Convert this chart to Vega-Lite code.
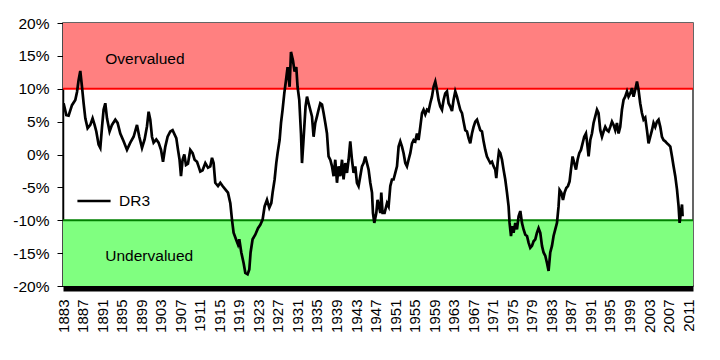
{
  "$schema": "https://vega.github.io/schema/vega-lite/v6.json",
  "autosize": {"type": "none"},
  "width": 630,
  "height": 263,
  "padding": {"left": 63, "top": 23, "right": 27, "bottom": 74},
  "background": "white",
  "config": {
    "view": {"stroke": "#333333", "strokeWidth": 1.5},
    "font": "Liberation Sans",
    "axis": {"labelFont": "Liberation Sans", "labelColor": "#000000", "grid": false, "labelOverlap": false, "labelBound": false, "labelFlush": false},
    "axisX": {"labelFontSize": 15, "labelAngle": 270, "labelPadding": 11, "ticks": false, "tickSize": 0, "offset": 2, "domainWidth": 6, "domainColor": "#000000"},
    "axisY": {"labelFontSize": 15.5, "labelPadding": 8, "tickSize": 6, "tickColor": "#000000", "domainColor": "#000000", "domainWidth": 1.5},
    "legend": {"labelFont": "Liberation Sans"}
  },
  "datasets": {
    "dr3": [
      {"t":1883.12,"v":7.8},{"t":1883.68,"v":6.0},{"t":1884.15,"v":5.9},{"t":1884.84,"v":7.5},{"t":1885.52,"v":8.3},{"t":1885.87,"v":9.5},{"t":1886.19,"v":11.3},{"t":1886.54,"v":12.7},{"t":1886.89,"v":10.3},{"t":1887.22,"v":7.8},{"t":1887.57,"v":5.5},{"t":1888.04,"v":4.0},{"t":1888.59,"v":4.5},{"t":1889.06,"v":5.5},{"t":1889.47,"v":4.5},{"t":1889.82,"v":3.5},{"t":1890.29,"v":1.5},{"t":1890.64,"v":1.0},{"t":1890.99,"v":4.2},{"t":1891.31,"v":6.8},{"t":1891.66,"v":7.8},{"t":1892.01,"v":5.5},{"t":1892.54,"v":3.5},{"t":1893.03,"v":4.5},{"t":1893.71,"v":5.3},{"t":1894.18,"v":4.8},{"t":1894.73,"v":3.2},{"t":1895.41,"v":2.0},{"t":1896.10,"v":0.7},{"t":1896.78,"v":1.8},{"t":1897.46,"v":2.7},{"t":1898.15,"v":4.5},{"t":1898.62,"v":2.7},{"t":1899.18,"v":1.0},{"t":1899.71,"v":2.3},{"t":1900.20,"v":4.3},{"t":1900.53,"v":6.5},{"t":1900.87,"v":5.3},{"t":1901.22,"v":2.7},{"t":1901.55,"v":1.8},{"t":1902.10,"v":2.3},{"t":1902.57,"v":1.8},{"t":1903.07,"v":0.7},{"t":1903.48,"v":-1.1},{"t":1903.95,"v":1.2},{"t":1904.42,"v":2.7},{"t":1904.97,"v":3.5},
      {"t":1905.44,"v":3.7},{"t":1906.20,"v":2.5},{"t":1906.55,"v":0.7},{"t":1906.87,"v":-0.8},{"t":1907.16,"v":-3.3},{"t":1907.49,"v":-0.8},{"t":1907.84,"v":0},{"t":1908.18,"v":-1.6},{"t":1908.59,"v":-1.4},{"t":1909.06,"v":0.7},{"t":1909.54,"v":0.2},{"t":1909.95,"v":-0.8},{"t":1910.44,"v":-1.1},{"t":1910.76,"v":-1.8},{"t":1911.11,"v":-2.6},{"t":1911.58,"v":-2.4},{"t":1912.14,"v":-1.3},{"t":1912.69,"v":-2.0},{"t":1913.16,"v":-1.8},{"t":1913.51,"v":-0.5},{"t":1913.84,"v":-1.3},{"t":1914.18,"v":-4.3},{"t":1914.74,"v":-4.8},{"t":1915.21,"v":-4.3},{"t":1915.68,"v":-4.8},{"t":1916.23,"v":-5.3},{"t":1916.78,"v":-5.8},{"t":1917.26,"v":-7.4},{"t":1917.60,"v":-9.9},{"t":1917.93,"v":-11.9},{"t":1918.42,"v":-12.9},{"t":1918.83,"v":-13.7},{"t":1919.10,"v":-12.9},{"t":1919.51,"v":-14.9},{"t":1919.98,"v":-16.5},{"t":1920.33,"v":-18.0},{"t":1920.80,"v":-18.2},{"t":1921.15,"v":-17.5},{"t":1921.41,"v":-14.9},{"t":1921.82,"v":-12.9},{"t":1922.37,"v":-12.2},{"t":1922.93,"v":-11.2},{"t":1923.40,"v":-10.7},{"t":1923.87,"v":-9.9},{"t":1924.28,"v":-7.9},{"t":1924.77,"v":-6.9},{"t":1925.24,"v":-8.1},{"t":1925.65,"v":-7.4},{"t":1925.92,"v":-5.8},{"t":1926.33,"v":-3.8},
      {"t":1926.67,"v":-1.3},{"t":1926.94,"v":0.2},{"t":1927.35,"v":2.2},{"t":1927.64,"v":4.8},{"t":1927.96,"v":6.8},{"t":1928.31,"v":9.3},{"t":1928.66,"v":11.3},{"t":1928.99,"v":13.3},{"t":1929.40,"v":10.3},{"t":1929.68,"v":15.6},{"t":1930.09,"v":14.3},{"t":1930.42,"v":12.6},{"t":1930.77,"v":13.3},{"t":1931.03,"v":10.3},{"t":1931.38,"v":8.3},{"t":1931.73,"v":3.2},{"t":1931.94,"v":-1.3},{"t":1932.20,"v":1.7},{"t":1932.41,"v":4.2},{"t":1932.67,"v":7.3},{"t":1932.96,"v":8.8},{"t":1933.29,"v":7.8},{"t":1933.63,"v":6.8},{"t":1933.98,"v":5.8},{"t":1934.31,"v":2.7},{"t":1934.66,"v":4.8},{"t":1935.01,"v":5.8},{"t":1935.33,"v":6.8},{"t":1935.68,"v":7.8},{"t":1936.03,"v":7.6},{"t":1936.36,"v":6.3},{"t":1936.71,"v":4.8},{"t":1937.05,"v":3.2},{"t":1937.38,"v":-0.3},{"t":1937.73,"v":-0.8},{"t":1938.08,"v":-1.8},{"t":1938.41,"v":-3.3},{"t":1938.75,"v":-0.8},{"t":1939.10,"v":-4.3},{"t":1939.43,"v":-1.8},{"t":1939.78,"v":-3.3},{"t":1940.13,"v":-0.8},{"t":1940.45,"v":-3.8},{"t":1940.80,"v":-1.3},{"t":1941.15,"v":-2.8},{"t":1941.48,"v":-0.8},{"t":1941.82,"v":2.0},{"t":1942.17,"v":-0.8},{"t":1942.50,"v":-2.8},{"t":1942.85,"v":-1.8},{"t":1943.19,"v":-4.3},{"t":1943.52,"v":-4.8},{"t":1943.87,"v":-3.3},{"t":1944.22,"v":-1.8},{"t":1944.55,"v":-1.3},{"t":1944.90,"v":-0.3},{"t":1945.24,"v":-1.3},{"t":1945.57,"v":-2.3},{"t":1945.92,"v":-4.3},{"t":1946.27,"v":-5.8},{"t":1946.47,"v":-8.9},{"t":1946.74,"v":-10.4},{"t":1947.15,"v":-8.9},{"t":1947.41,"v":-6.9},
      {"t":1947.98,"v":-8.9},{"t":1948.17,"v":-5.8},{"t":1948.44,"v":-8.9},{"t":1948.85,"v":-8.9},{"t":1949.34,"v":-7.4},{"t":1949.67,"v":-7.9},{"t":1950.02,"v":-4.8},{"t":1950.36,"v":-3.8},{"t":1950.69,"v":-3.8},{"t":1951.04,"v":-2.8},{"t":1951.39,"v":-1.8},{"t":1951.72,"v":1.2},{"t":1952.06,"v":2.0},{"t":1952.41,"v":1.2},{"t":1952.74,"v":0.2},{"t":1953.09,"v":-1.3},{"t":1953.43,"v":-1.8},{"t":1953.76,"v":-0.8},{"t":1954.11,"v":0.2},{"t":1954.46,"v":1.7},{"t":1954.79,"v":2.2},{"t":1955.13,"v":2.0},{"t":1955.48,"v":3.2},{"t":1955.81,"v":2.2},{"t":1956.16,"v":4.2},{"t":1956.51,"v":6.3},{"t":1956.83,"v":6.8},{"t":1957.18,"v":6.1},{"t":1957.53,"v":6.8},{"t":1957.86,"v":6.6},{"t":1958.20,"v":7.8},{"t":1958.55,"v":8.8},{"t":1958.88,"v":10.3},{"t":1959.23,"v":11.1},{"t":1959.58,"v":9.8},{"t":1959.90,"v":8.3},{"t":1960.25,"v":7.3},{"t":1960.60,"v":6.8},{"t":1960.93,"v":8.3},{"t":1961.27,"v":9.3},{"t":1961.62,"v":9.6},{"t":1961.95,"v":7.8},{"t":1962.30,"v":7.3},{"t":1962.65,"v":6.6},{"t":1962.97,"v":8.3},{"t":1963.32,"v":9.6},{"t":1963.67,"v":8.8},{"t":1964.00,"v":7.8},{"t":1964.35,"v":6.8},{"t":1964.70,"v":6.3},{"t":1965.02,"v":5.0},{"t":1965.37,"v":3.7},{"t":1965.72,"v":3.5},{"t":1966.05,"v":2.5},{"t":1966.39,"v":1.7},{"t":1966.74,"v":3.2},{"t":1967.07,"v":4.2},{"t":1967.42,"v":5.0},{"t":1967.77,"v":5.3},{"t":1968.10,"v":4.5},{"t":1968.44,"v":3.7},
      {"t":1968.79,"v":3.5},{"t":1969.12,"v":2.0},{"t":1969.47,"v":0.7},{"t":1969.81,"v":-0.3},{"t":1970.14,"v":-0.8},{"t":1970.49,"v":-1.3},{"t":1970.84,"v":-1.1},{"t":1971.17,"v":-1.8},{"t":1971.51,"v":-2.3},{"t":1971.72,"v":-3.6},{"t":1971.99,"v":-1.3},{"t":1972.27,"v":0.5},{"t":1972.54,"v":0.2},{"t":1972.89,"v":-0.8},{"t":1973.21,"v":-2.3},{"t":1973.56,"v":-3.8},{"t":1973.91,"v":-5.8},{"t":1974.24,"v":-7.9},{"t":1974.44,"v":-10.4},{"t":1974.73,"v":-12.4},{"t":1975.00,"v":-10.9},{"t":1975.26,"v":-11.9},{"t":1975.61,"v":-10.4},{"t":1975.96,"v":-11.4},{"t":1976.29,"v":-9.4},{"t":1976.64,"v":-8.6},{"t":1976.98,"v":-10.4},{"t":1977.31,"v":-11.4},{"t":1977.66,"v":-12.2},{"t":1978.01,"v":-12.4},{"t":1978.33,"v":-13.4},{"t":1978.68,"v":-14.2},{"t":1979.03,"v":-13.9},{"t":1979.36,"v":-13.2},{"t":1979.71,"v":-12.9},{"t":1980.05,"v":-11.9},{"t":1980.38,"v":-11.2},{"t":1980.73,"v":-11.9},{"t":1981.08,"v":-13.9},{"t":1981.40,"v":-14.9},{"t":1981.75,"v":-15.4},{"t":1982.10,"v":-16.5},{"t":1982.43,"v":-17.7},{"t":1982.77,"v":-14.9},{"t":1983.12,"v":-13.9},{"t":1983.45,"v":-12.4},{"t":1983.80,"v":-11.4},{"t":1984.15,"v":-10.4},{"t":1984.47,"v":-7.9},{"t":1984.68,"v":-5.4},{"t":1985.03,"v":-5.8},{"t":1985.38,"v":-6.9},{"t":1985.70,"v":-5.8},{"t":1986.05,"v":-5.1},{"t":1986.40,"v":-4.8},{"t":1986.73,"v":-4.1},{"t":1987.01,"v":-2.3},{"t":1987.34,"v":-0.3},{"t":1987.69,"v":-1.3},{"t":1988.04,"v":-2.3},{"t":1988.37,"v":-0.8},{"t":1988.71,"v":0.2},{"t":1989.06,"v":0.7},{"t":1989.39,"v":1.7},{"t":1989.73,"v":2.7},{"t":1990.08,"v":3.2},{"t":1990.29,"v":2.0},{"t":1990.62,"v":-0.3},
      {"t":1990.97,"v":2.2},{"t":1991.31,"v":3.2},{"t":1991.64,"v":4.8},{"t":1991.99,"v":5.8},{"t":1992.34,"v":6.8},{"t":1992.66,"v":6.3},{"t":1993.01,"v":3.7},{"t":1993.36,"v":2.7},{"t":1993.69,"v":3.5},{"t":1994.03,"v":4.2},{"t":1994.38,"v":3.7},{"t":1994.71,"v":3.5},{"t":1995.06,"v":4.2},{"t":1995.41,"v":5.0},{"t":1995.74,"v":4.5},{"t":1996.08,"v":3.7},{"t":1996.43,"v":4.8},{"t":1996.76,"v":3.2},{"t":1997.10,"v":4.2},{"t":1997.45,"v":6.8},{"t":1997.78,"v":8.3},{"t":1998.12,"v":8.8},{"t":1998.48,"v":9.6},{"t":1998.80,"v":8.8},{"t":1999.15,"v":9.3},{"t":1999.50,"v":10.1},{"t":1999.83,"v":8.8},{"t":2000.17,"v":9.8},{"t":2000.53,"v":11.1},{"t":2000.85,"v":9.8},{"t":2001.19,"v":7.8},{"t":2001.54,"v":6.3},{"t":2001.88,"v":5.3},{"t":2002.22,"v":5.6},{"t":2002.57,"v":3.7},{"t":2002.90,"v":1.7},{"t":2003.25,"v":2.7},{"t":2003.60,"v":3.7},{"t":2003.92,"v":4.8},{"t":2004.27,"v":4.2},{"t":2004.62,"v":5.0},{"t":2004.95,"v":5.3},{"t":2005.30,"v":4.2},{"t":2005.64,"v":2.7},{"t":2005.97,"v":2.2},{"t":2006.32,"v":2.0},{"t":2006.67,"v":1.7},{"t":2007.00,"v":1.5},{"t":2007.35,"v":1.2},{"t":2007.70,"v":-0.3},{"t":2008.02,"v":-1.8},{"t":2008.37,"v":-3.3},{"t":2008.72,"v":-5.3},{"t":2009.05,"v":-7.9},{"t":2009.26,"v":-10.4},{"t":2009.50,"v":-8.9},{"t":2009.75,"v":-7.6},{"t":2009.87,"v":-9.4}
    ]
  },
  "layer": [
    {
      "data": {"values": [{"lo": 10, "hi": 20}]},
      "mark": {"type": "rect", "color": "#FF8080"},
      "encoding": {
        "y": {"field": "lo", "type": "quantitative", "title": null},
        "y2": {"field": "hi"}
      }
    },
    {
      "data": {"values": [{"lo": -20, "hi": -10}]},
      "mark": {"type": "rect", "color": "#80FF80"},
      "encoding": {
        "y": {"field": "lo", "type": "quantitative", "title": null},
        "y2": {"field": "hi"}
      }
    },
    {
      "data": {"values": [{"lvl": 10}]},
      "mark": {"type": "rule", "color": "#FF0000", "strokeWidth": 2},
      "encoding": {"y": {"field": "lvl", "type": "quantitative", "title": null}}
    },
    {
      "data": {"values": [{"lvl": -10}]},
      "mark": {"type": "rule", "color": "#008000", "strokeWidth": 2},
      "encoding": {"y": {"field": "lvl", "type": "quantitative", "title": null}}
    },
    {
      "data": {"name": "dr3"},
      "mark": {"type": "line", "strokeWidth": 2.7, "strokeJoin": "miter", "clip": true},
      "encoding": {
        "x": {
          "field": "t", "type": "quantitative",
          "scale": {"domain": [1883, 2012], "nice": false, "zero": false},
          "axis": {
            "title": null, "values": [1883,1887,1891,1895,1899,1903,1907,1911,1915,1919,1923,1927,1931,1935,1939,1943,1947,1951,1955,1959,1963,1967,1971,1975,1979,1983,1987,1991,1995,1999,2003,2007,2011],
            "format": "d", "labelOverlap": false, "tickCount": 100
          }
        },
        "y": {
          "field": "v", "type": "quantitative",
          "scale": {"domain": [-20, 20], "nice": false, "zero": false},
          "axis": {
            "title": null, "values": [-20,-15,-10,-5,0,5,10,15,20],
            "labelExpr": "datum.value + '%'", "labelOverlap": false, "tickCount": 40
          }
        },
        "color": {
          "datum": "DR3",
          "scale": {"range": ["#000000"]},
          "legend": {
            "orient": "none", "legendX": 13, "legendY": 160, "title": null,
            "symbolType": "stroke", "symbolSize": 1100, "symbolStrokeWidth": 2.5,
            "symbolStrokeColor": "#000000", "labelFontSize": 15.5, "labelColor": "#000000",
            "labelOffset": 7, "padding": 0
          }
        }
      }
    },
    {
      "data": {"values": [{"t": 1891.66, "v": 14.6, "label": "Overvalued"}, {"t": 1891.66, "v": -15.4, "label": "Undervalued"}]},
      "mark": {"type": "text", "align": "left", "baseline": "middle", "fontSize": 15.5, "font": "Liberation Sans", "color": "#000000"},
      "encoding": {
        "x": {"field": "t", "type": "quantitative", "title": null},
        "y": {"field": "v", "type": "quantitative", "title": null},
        "text": {"field": "label"}
      }
    }
  ]
}
